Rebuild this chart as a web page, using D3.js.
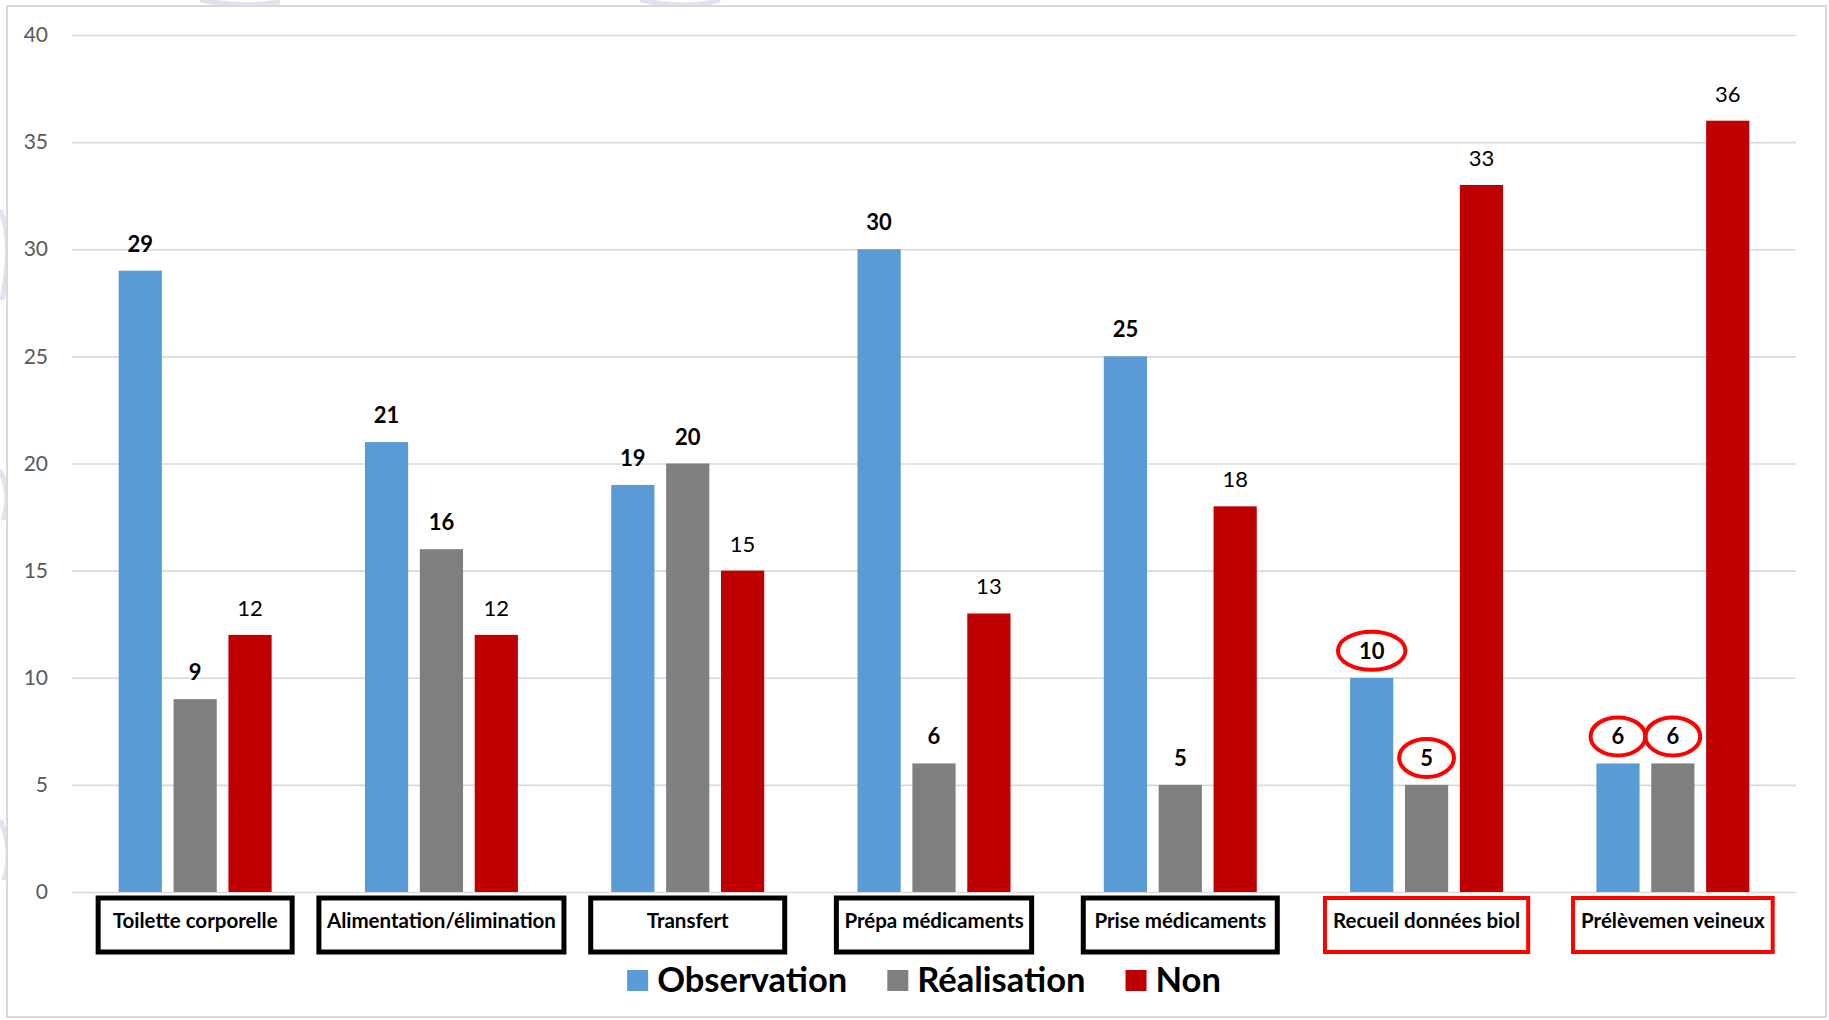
<!DOCTYPE html>
<html>
<head>
<meta charset="utf-8">
<script src="https://cdn.jsdelivr.net/npm/d3@7"></script>
<style>
  body { margin: 0; background: #fff; }
  svg { display: block; }
</style>
</head>
<body>
<div id="container"></div>
<script>
/* DATA */
const categories = ["Toilette corporelle", "Alimentation/élimination", "Transfert", "Prépa médicaments",
  "Prise médicaments", "Recueil données biol", "Prélèvemen veineux"];
const seriesNames = ["Observation", "Réalisation", "Non"];
const observation = [29, 21, 19, 30, 25, 10, 6];
const realisation = [9, 16, 20, 6, 5, 5, 6];
const non = [12, 12, 15, 13, 18, 33, 36];
const yTicks = [0, 5, 10, 15, 20, 25, 30, 35, 40];
// categories framed in red, their Observation/Réalisation labels circled
const flagged = ["Recueil données biol", "Prélèvemen veineux"];
const circledSeries = ["Observation", "Réalisation"];

/* CONSTANTS */
const width = 1829;
const height = 1020;
const colors = { "Observation": "#5b9bd5", "Réalisation": "#7f7f7f", "Non": "#c00000" };
const font = "Lato, 'Open Sans', sans-serif";

const rows = categories.map((c, i) => ({
  cat: c,
  values: [
    { s: "Observation", v: observation[i] },
    { s: "Réalisation", v: realisation[i] },
    { s: "Non", v: non[i] }
  ]
}));

/* SCALES */
const xScale = d3.scaleBand()
  .domain(categories)
  .range([72, 1796])
  .paddingInner(0)
  .paddingOuter(0);

const xInner = d3.scaleBand()
  .domain(seriesNames)
  .range([0, xScale.bandwidth()])
  .paddingInner(0.213)
  .paddingOuter(0.85);

const yScale = d3.scaleLinear()
  .domain([0, 40])
  .range([892, 35]);

/* SVG */
const svg = d3.select("#container")
  .append("svg")
  .attr("width", width)
  .attr("height", height)
  .style("font-family", font);

// faint watermark traces behind the frame
const wm = svg.append("g").attr("fill", "none").attr("stroke", "#e2e2ee").attr("stroke-width", 5);
wm.append("path").attr("d", "M0,210 Q14,240 2,300");
wm.append("path").attr("d", "M0,470 Q12,495 3,520");
wm.append("path").attr("d", "M0,820 Q14,850 4,880");
wm.append("path").attr("d", "M200,0 Q240,8 280,2");
wm.append("path").attr("d", "M640,0 Q690,10 720,0");

// outer frame
svg.append("rect")
  .attr("x", 7).attr("y", 6)
  .attr("width", 1819).attr("height", 1011)
  .attr("fill", "#fff")
  .attr("stroke", "#d9d9d9")
  .attr("stroke-width", 2);

// gridlines + y labels
const yAxis = d3.axisLeft(yScale)
  .tickValues(yTicks)
  .tickSize(-(1796 - 72))
  .tickPadding(24);

svg.append("g")
  .attr("class", "y-axis")
  .attr("transform", "translate(72,0)")
  .call(yAxis)
  .call(g => g.select(".domain").remove())
  .call(g => g.selectAll(".tick line").attr("stroke", "#d9d9d9").attr("stroke-width", 1.6))
  .call(g => g.selectAll(".tick text")
    .attr("fill", "#595959")
    .style("font-size", "21px")
    .style("font-family", font));

// bars
const groups = svg.selectAll("g.group")
  .data(rows)
  .join("g")
  .attr("class", "group")
  .attr("transform", d => `translate(${xScale(d.cat)},0)`);

groups.selectAll("rect")
  .data(d => d.values)
  .join("rect")
  .attr("x", d => xInner(d.s))
  .attr("y", d => yScale(d.v))
  .attr("width", xInner.bandwidth())
  .attr("height", d => yScale(0) - yScale(d.v))
  .attr("fill", d => colors[d.s]);

// value labels
groups.selectAll("text.val")
  .data(d => d.values)
  .join("text")
  .attr("class", "val")
  .attr("x", d => xInner(d.s) + xInner.bandwidth() / 2)
  .attr("y", d => yScale(d.v) - 19)
  .attr("text-anchor", "middle")
  .style("font-size", "22px")
  .style("font-weight", d => d.s === "Non" ? "400" : "700")
  .attr("fill", "#000")
  .text(d => d.v);

// red ellipses around flagged labels
groups.each(function (d) {
  if (!flagged.includes(d.cat)) return;
  const g = d3.select(this);
  g.selectAll("text.val").each(function (v) {
    if (!circledSeries.includes(v.s)) return;
    const tw = this.getComputedTextLength();
    g.append("ellipse")
      .attr("cx", xInner(v.s) + xInner.bandwidth() / 2)
      .attr("cy", yScale(v.v) - 27)
      .attr("rx", tw / 2 + 21)
      .attr("ry", 19)
      .attr("fill", "none")
      .attr("stroke", "#ff0000")
      .attr("stroke-width", 4);
  });
});

// category boxes
const catG = svg.selectAll("g.cat")
  .data(categories)
  .join("g")
  .attr("class", "cat")
  .attr("transform", d => `translate(${xScale(d) + xScale.bandwidth() / 2},0)`);

catG.append("text")
  .attr("x", 0)
  .attr("y", 928)
  .attr("text-anchor", "middle")
  .style("font-size", "20.5px")
  .style("font-weight", "700")
  .attr("fill", "#000")
  .text(d => d);

catG.each(function (d) {
  const g = d3.select(this);
  const tw = g.select("text").node().getComputedTextLength();
  const w = Math.max(194, tw + 16);
  const red = flagged.includes(d);
  g.insert("rect", "text")
    .attr("x", -w / 2)
    .attr("y", 898)
    .attr("width", w)
    .attr("height", 54)
    .attr("fill", "#fff")
    .attr("stroke", red ? "#ff0000" : "#000")
    .attr("stroke-width", red ? 4 : 5);
});

// legend
const legend = svg.append("g").attr("class", "legend");
let lx = 0;
seriesNames.forEach(s => {
  const item = legend.append("g").attr("transform", `translate(${lx},0)`);
  item.append("rect")
    .attr("x", 0).attr("y", 970)
    .attr("width", 21).attr("height", 21)
    .attr("fill", colors[s]);
  const t = item.append("text")
    .attr("x", 30).attr("y", 992)
    .style("font-size", "34.5px")
    .style("font-weight", "700")
    .attr("fill", "#000")
    .text(s);
  lx += 30 + t.node().getComputedTextLength() + 40;
});
const legendW = lx - 40;
legend.attr("transform", `translate(${924 - legendW / 2},0)`);
</script>
</body>
</html>
